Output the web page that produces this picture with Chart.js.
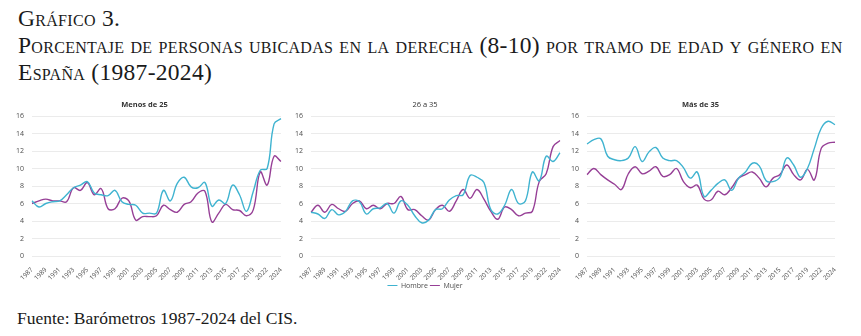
<!DOCTYPE html>
<html lang="es">
<head>
<meta charset="utf-8">
<script src="https://cdn.jsdelivr.net/npm/chart.js@4.4.1/dist/chart.umd.min.js"></script>
<style>
  html, body { margin: 0; padding: 0; background: #fff; }
  body { width: 861px; height: 336px; position: relative; overflow: hidden; }
  .head {
    position: absolute; left: 18px; margin: 0;
    font-family: "Liberation Serif", "DejaVu Serif", serif;
    font-variant: small-caps; font-size: 23.5px; line-height: 27px;
    letter-spacing: 0.3px;
    color: #1a1a1a; white-space: nowrap;
  }
  .foot {
    position: absolute; left: 17px; top: 308px;
    font-family: "Liberation Serif", serif; font-size: 17.5px; color: #1a1a1a;
  }
  .box { position: absolute; }
</style>
</head>
<body>
<div class="head" style="top:5px">Gráfico 3.</div>
<div class="head" style="top:32px">Porcentaje de personas ubicadas en la derecha (8-10) por tramo de edad y género en</div>
<div class="head" style="top:59px">España (1987-2024)</div>

<div class="box" style="left:8px;top:95px;width:282px;height:185px"><canvas id="c1"></canvas></div>
<div class="box" style="left:290px;top:95px;width:280px;height:204px"><canvas id="c2"></canvas></div>
<div class="box" style="left:566px;top:95px;width:280px;height:185px"><canvas id="c3"></canvas></div>

<div class="foot">Fuente: Barómetros 1987-2024 del CIS.</div>

<script>
// Oleadas del barómetro (no hay dato de 2020)
const years = [1987, 1988, 1989, 1990, 1991, 1992, 1993, 1994, 1995, 1996,
  1997, 1998, 1999, 2000, 2001, 2002, 2003, 2004, 2005, 2006,
  2007, 2008, 2009, 2010, 2011, 2012, 2013, 2014, 2015, 2016,
  2017, 2018, 2019, 2021, 2022, 2023, 2024];

const yTicks = [0, 2, 4, 6, 8, 10, 12, 14, 16];

// Menos de 25
const hombreMenos25 = [6.3, 5.6, 6.0, 6.2, 6.3, 7.0, 7.8, 8.1, 8.5, 7.2,
  7.0, 6.9, 7.5, 6.2, 5.9, 5.8, 4.9, 4.9, 4.9, 7.5,
  6.3, 8.3, 9.0, 7.9, 7.8, 8.4, 5.7, 6.4, 6.0, 8.1,
  7.0, 5.1, 7.4, 9.8, 10.0, 15.1, 15.7];
const mujerMenos25 = [6.0, 6.3, 6.5, 6.3, 6.3, 6.2, 7.8, 7.5, 8.4, 7.0,
  7.7, 5.4, 5.4, 6.6, 6.3, 4.1, 4.5, 4.5, 4.6, 5.8,
  5.3, 5.0, 5.9, 6.2, 7.2, 7.4, 3.9, 4.9, 5.9, 5.3,
  5.2, 4.6, 5.3, 9.6, 8.1, 11.4, 10.8];

// 26 a 35
const hombre26a35 = [5.0, 4.8, 4.3, 5.3, 4.7, 5.1, 6.3, 6.2, 4.8, 5.4,
  5.5, 6.0, 4.9, 6.3, 5.8, 4.6, 3.8, 4.1, 5.3, 5.4,
  6.4, 6.9, 7.0, 9.2, 9.0, 8.4, 5.3, 4.8, 5.8, 7.6,
  6.0, 6.3, 9.6, 8.6, 11.4, 10.8, 11.8];
const mujer26a35 = [5.0, 5.8, 5.0, 5.9, 5.4, 5.1, 6.0, 6.3, 5.4, 5.8,
  5.4, 6.0, 6.0, 6.8, 5.3, 5.3, 4.6, 4.1, 5.3, 5.8,
  5.1, 6.3, 7.6, 6.6, 7.6, 6.5, 5.1, 4.2, 5.6, 5.3,
  4.6, 4.9, 5.1, 8.5, 9.4, 12.5, 13.2];

// Más de 35
const hombreMas35 = [12.8, 13.3, 13.4, 11.4, 11.0, 10.9, 11.2, 12.5, 10.8, 11.9,
  12.4, 11.2, 10.9, 10.9, 10.1, 8.9, 9.6, 6.8, 7.5, 8.3,
  8.7, 7.5, 8.9, 9.6, 10.6, 10.3, 8.6, 8.5, 9.0, 11.2,
  10.4, 9.0, 10.0, 12.3, 14.6, 15.4, 15.0];
const mujerMas35 = [9.3, 10.0, 9.3, 8.7, 8.2, 7.6, 9.4, 10.2, 9.4, 9.7,
  10.2, 9.1, 9.3, 10.0, 8.5, 7.8, 8.1, 6.5, 6.4, 7.4,
  7.0, 7.8, 8.9, 9.3, 9.6, 8.9, 7.9, 8.9, 9.3, 10.4,
  9.3, 8.7, 9.9, 8.7, 12.3, 12.9, 13.0];

const COLOR_HOMBRE = '#3fb3d0';
const COLOR_MUJER = '#963f96';
const GREY = '#4d4d4d';
const FONT = '"Open Sans", "Noto Sans", sans-serif';

function lineChart(id, title, bold, hombre, mujer, opts) {
  return new Chart(document.getElementById(id), {
    type: 'line',
    data: {
      labels: years,
      datasets: [
        { label: 'Hombre', data: hombre, borderColor: COLOR_HOMBRE, backgroundColor: COLOR_HOMBRE },
        { label: 'Mujer', data: mujer, borderColor: COLOR_MUJER, backgroundColor: COLOR_MUJER }
      ]
    },
    options: {
      responsive: true,
      maintainAspectRatio: false,
      animation: false,
      layout: { padding: { left: 0, right: opts.padRight, top: 0, bottom: 0 } },
      elements: {
        line: { borderWidth: 1.4, tension: 0.4 },
        point: { radius: 0 }
      },
      scales: {
        x: {
          grid: { display: false },
          border: { display: false },
          ticks: {
            autoSkip: false,
            maxRotation: 45,
            minRotation: 45,
            padding: 2,
            color: GREY,
            font: { family: FONT, size: 6.5 },
            callback: function(val, i) { return i % 2 === 0 ? this.getLabelForValue(val) : ''; }
          },
          afterFit: s => { s.height = 24; }
        },
        y: {
          min: 0,
          max: 16,
          afterBuildTicks: s => { s.ticks = yTicks.map(v => ({ value: v })); },
          grid: { color: '#e6e6e6', lineWidth: 0.8, drawTicks: false },
          border: { display: false },
          ticks: { padding: 8, color: GREY, font: { family: FONT, size: 7 } },
          afterFit: s => { s.width = opts.yWidth; }
        }
      },
      plugins: {
        title: {
          display: true,
          text: title,
          color: '#333333',
          font: { family: FONT, size: 7.5, weight: bold ? 'bold' : 'normal' },
          padding: { top: 5.5, bottom: 6.5 }
        },
        legend: {
          display: !!opts.legend,
          position: 'bottom',
          labels: {
            usePointStyle: true,
            pointStyle: 'line',
            pointStyleWidth: 10,
            boxHeight: 7,
            padding: 2,
            color: GREY,
            font: { family: FONT, size: 7 }
          }
        },
        tooltip: { enabled: false }
      }
    }
  });
}

lineChart('c1', 'Menos de 25', true, hombreMenos25, mujerMenos25, { yWidth: 24, padRight: 9 });
lineChart('c2', '26 a 35', false, hombre26a35, mujer26a35, { yWidth: 21, padRight: 10, legend: true });
lineChart('c3', 'Más de 35', true, hombreMas35, mujerMas35, { yWidth: 21, padRight: 11 });
</script>
</body>
</html>
